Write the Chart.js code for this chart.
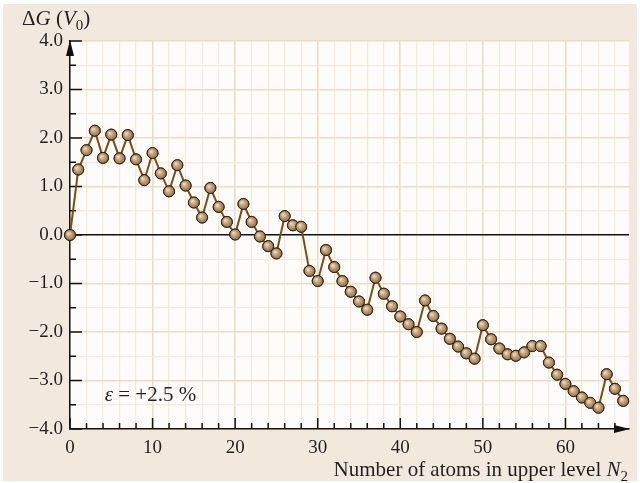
<!DOCTYPE html>
<html>
<head>
<meta charset="utf-8">
<script src="https://cdn.jsdelivr.net/npm/chart.js@4.4.1/dist/chart.umd.min.js"></script>
<style>
  body { margin: 0; background: #fff; }
  #wrap { width: 640px; height: 483px; }
</style>
</head>
<body>
<div id="wrap"><canvas id="chart"></canvas></div>
<script>
// Delta G per number of atoms in upper level (epsilon = +2.5 %)
const deltaG = [
    0.00, 1.35, 1.75, 2.15, 1.59, 2.07, 1.58, 2.06, 1.56, 1.13,
    1.69, 1.27, 0.90, 1.44, 1.02, 0.67, 0.36, 0.97, 0.58, 0.27,
    0.01, 0.64, 0.27, -0.03, -0.23, -0.38, 0.39, 0.20, 0.17, -0.74,
    -0.95, -0.31, -0.66, -0.95, -1.17, -1.37, -1.54, -0.88, -1.21, -1.47,
    -1.68, -1.84, -2.00, -1.35, -1.67, -1.93, -2.14, -2.30, -2.44, -2.55,
    -1.86, -2.15, -2.34, -2.46, -2.49, -2.42, -2.29, -2.29, -2.63, -2.88,
    -3.07, -3.22, -3.35, -3.46, -3.56, -2.87, -3.17, -3.42
]
const atomsN = deltaG.map((v, i) => i)
const xTickLabels = [0, 10, 20, 30, 40, 50, 60]
const yTickLabels = [-4, -3, -2, -1, 0, 1, 2, 3, 4]

const fuente = "Liberation Serif"
const colorTexto = "#231f20"
const gridMenor = "#f5e9dd"
const gridMayor = "#eedbc6"
const tamTitulo = 21
const tamSub = 15
const tamTick = 19

const puntos = atomsN.map((n, i) => ({ x: n, y: deltaG[i] }))

function fmtY(v) {
    return v.toFixed(1).replace("-", "\u2212")
}

// fondo beige + area blanca
const fondo = {
    id: "fondo",
    beforeDraw(chart) {
        const c = chart.ctx
        const a = chart.chartArea
        c.save()
        c.fillStyle = "#ffffff"
        c.fillRect(0, 0, chart.width, chart.height)
        c.fillStyle = "#f3e8de"
        c.fillRect(3, 4, chart.width - 6, chart.height - 6)
        c.fillStyle = "#fdfcfa"
        c.fillRect(a.left, a.top, a.right - a.left, a.bottom - a.top)
        c.restore()
    }
}

// ticks hacia adentro, flechas y textos
const ejes = {
    id: "ejes",
    beforeDatasetsDraw(chart) {
        const c = chart.ctx
        const a = chart.chartArea
        const sx = chart.scales.x
        const sy = chart.scales.y
        c.save()
        c.strokeStyle = "#111"
        c.lineWidth = 1.5
        sx.ticks.forEach(t => {
            const px = sx.getPixelForValue(t.value)
            const largo = t.value % 10 === 0 ? 11 : 6
            c.beginPath()
            c.moveTo(px, a.bottom)
            c.lineTo(px, a.bottom - largo)
            c.stroke()
        })
        sy.ticks.forEach(t => {
            const py = sy.getPixelForValue(t.value)
            const largo = Number.isInteger(t.value) ? 12 : 6
            c.beginPath()
            c.moveTo(a.left, py)
            c.lineTo(a.left + largo, py)
            c.stroke()
        })
        // flechas
        c.fillStyle = "#111"
        c.beginPath()
        c.moveTo(a.left, a.top - 1)
        c.lineTo(a.left - 4, a.top + 15)
        c.lineTo(a.left + 4, a.top + 15)
        c.closePath()
        c.fill()
        c.beginPath()
        c.moveTo(a.right + 1, a.bottom)
        c.lineTo(a.right - 15, a.bottom - 4)
        c.lineTo(a.right - 15, a.bottom + 4)
        c.closePath()
        c.fill()
        c.restore()
    },
    afterDatasetsDraw(chart) {
        // puntos con brillo, sobre los elementos que calcula Chart.js
        const c = chart.ctx
        const meta = chart.getDatasetMeta(0)
        c.save()
        meta.data.forEach(p => {
            const g = c.createRadialGradient(p.x - 1.8, p.y - 1.8, 0, p.x, p.y, 6)
            g.addColorStop(0, "#f2e4cf")
            g.addColorStop(0.45, "#c6a47c")
            g.addColorStop(1, "#86643e")
            c.beginPath()
            c.arc(p.x, p.y, 5.5, 0, Math.PI * 2)
            c.fillStyle = g
            c.fill()
            c.lineWidth = 1
            c.strokeStyle = "#2e2216"
            c.stroke()
        })
        c.restore()
    },
    afterDraw(chart) {
        const c = chart.ctx
        const sx = chart.scales.x
        const sy = chart.scales.y
        c.save()
        c.fillStyle = colorTexto
        c.textBaseline = "alphabetic"

        // titulo eje y
        let x = 22
        const yTit = 25
        const partes = [
            ["\u0394", "", 0],
            ["G", "italic ", 0],
            [" (", "", 0],
            ["V", "italic ", 0],
            ["0", "", 1],
            [")", "", 0]
        ]
        partes.forEach(([txt, est, sub]) => {
            c.font = est + (sub ? tamSub : tamTitulo) + "px " + fuente
            c.fillText(txt, x, yTit + (sub ? 5 : 0))
            x += c.measureText(txt).width
        })

        // titulo eje x (alineado a la derecha)
        const t1 = "Number of atoms in upper level "
        c.font = "italic " + tamTitulo + "px " + fuente
        const wN = c.measureText("N").width
        c.font = tamSub + "px " + fuente
        const w2 = c.measureText("2").width
        c.font = tamTitulo + "px " + fuente
        const w1 = c.measureText(t1).width
        let xx = 628 - w1 - wN - w2
        const yx = 476
        c.fillText(t1, xx, yx)
        xx += w1
        c.font = "italic " + tamTitulo + "px " + fuente
        c.fillText("N", xx, yx)
        xx += wN
        c.font = tamSub + "px " + fuente
        c.fillText("2", xx, yx + 5)

        // anotacion epsilon
        let ex = sx.getPixelForValue(4.2)
        const ey = sy.getPixelForValue(-3.43)
        c.font = "italic " + tamTitulo + "px " + fuente
        c.fillText("\u03b5", ex, ey)
        ex += c.measureText("\u03b5").width
        c.font = tamTitulo + "px " + fuente
        c.fillText(" = +2.5 %", ex, ey)
        c.restore()
    }
}

const grafico = document.getElementById("chart").getContext("2d")
new Chart(grafico, {
    type: "line",
    data: {
        datasets: [{
            label: "\u0394G",
            data: puntos,
            borderColor: "#7d4c12",
            borderWidth: 2,
            pointRadius: 5.5,
            pointBorderWidth: 1,
            pointBorderColor: "#2e2216",
            pointBackgroundColor: "#b09070",
            tension: 0,
            clip: false,
        }],
    },
    options: {
        responsive: true,
        maintainAspectRatio: false,
        animation: false,
        events: [],
        layout: { padding: { top: 41, right: 11, bottom: 14, left: 0 } },
        plugins: {
            legend: { display: false },
            tooltip: { enabled: false },
        },
        scales: {
            x: {
                type: "linear",
                min: 0,
                max: 67.7,
                afterFit: (s) => { s.height = 40 },
                border: { display: true, color: "#111", width: 1.5 },
                grid: {
                    drawTicks: false,
                    color: (ctx) => ctx.tick && ctx.tick.value % 10 === 0 ? gridMayor : gridMenor,
                    lineWidth: (ctx) => ctx.tick && ctx.tick.value % 10 === 0 ? 1.6 : 1.2,
                },
                ticks: {
                    stepSize: 2,
                    includeBounds: false,
                    autoSkip: false,
                    maxRotation: 0,
                    padding: 8,
                    color: colorTexto,
                    font: { family: fuente, size: tamTick },
                    callback: (v) => xTickLabels.includes(v) ? String(v) : "",
                },
            },
            y: {
                min: -4,
                max: 4,
                afterFit: (s) => { s.width = 70 },
                border: { display: true, color: "#111", width: 1.5 },
                grid: {
                    drawTicks: false,
                    color: (ctx) => {
                        if (!ctx.tick) return gridMenor
                        if (ctx.tick.value === 0) return "#111"
                        return Number.isInteger(ctx.tick.value) ? gridMayor : gridMenor
                    },
                    lineWidth: (ctx) => {
                        if (!ctx.tick) return 1.2
                        if (ctx.tick.value === 0) return 1.5
                        return Number.isInteger(ctx.tick.value) ? 1.6 : 1.2
                    },
                },
                ticks: {
                    stepSize: 0.5,
                    autoSkip: false,
                    padding: 7,
                    color: colorTexto,
                    font: { family: fuente, size: tamTick },
                    callback: (v) => yTickLabels.includes(v) ? fmtY(v) : "",
                },
            },
        },
    },
    plugins: [fondo, ejes],
});
</script>
</body>
</html>
